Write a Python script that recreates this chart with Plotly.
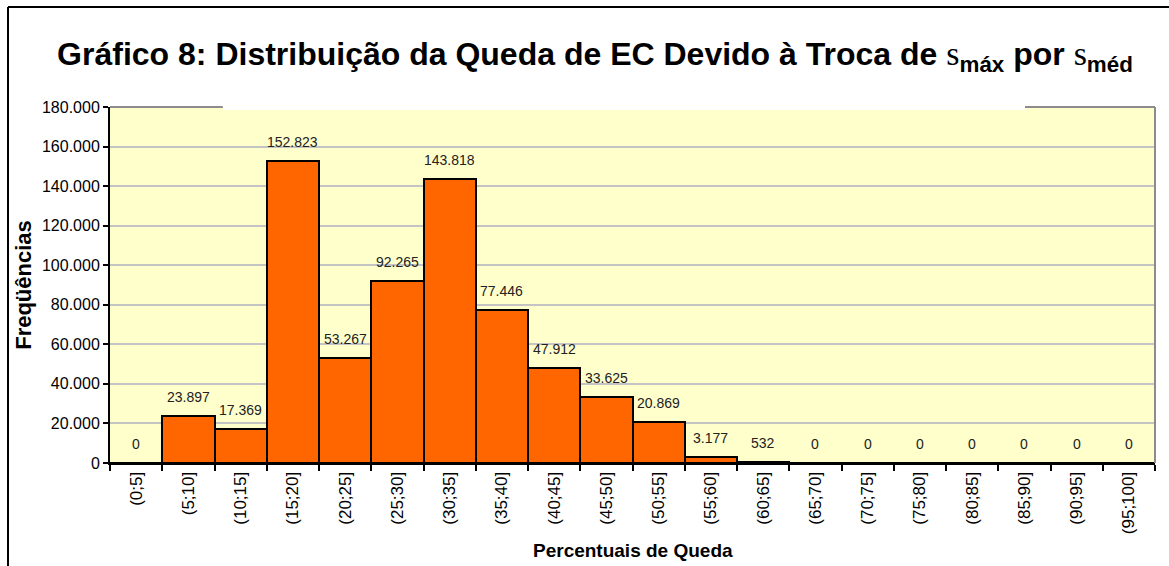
import plotly.graph_objects as go

categories = ["(0;5]", "(5;10]", "(10;15]", "(15;20]", "(20;25]", "(25;30]", "(30;35]",
              "(35;40]", "(40;45]", "(45;50]", "(50;55]", "(55;60]", "(60;65]", "(65;70]",
              "(70;75]", "(75;80]", "(80;85]", "(85;90]", "(90;95]", "(95;100]"]
frequencies = [0, 23897, 17369, 152823, 53267, 92265, 143818, 77446, 47912, 33625,
               20869, 3177, 532, 0, 0, 0, 0, 0, 0, 0]
y_ticks = [0, 20000, 40000, 60000, 80000, 100000, 120000, 140000, 160000, 180000]
y_ticktext = ["0", "20.000", "40.000", "60.000", "80.000", "100.000", "120.000",
              "140.000", "160.000", "180.000"]


def fmt(v):
    return f"{v:,}".replace(",", ".")


SANS = "Liberation Sans, Arial, sans-serif"

fig = go.Figure()
fig.add_trace(go.Bar(
    x=categories, y=frequencies,
    marker=dict(color="#FF6600", line=dict(color="black", width=2)),
    width=1.0,
    hoverinfo="x+y",
))

label_font = dict(family=SANS, size=14, color="#222222")
annotations = []
for c, v in zip(categories, frequencies):
    annotations.append(dict(x=c, y=v, xref="x", yref="y", text=fmt(v), showarrow=False,
                            yanchor="bottom", yshift=9, font=label_font))

annotations.append(dict(
    text="<b>Percentuais de Queda</b>", xref="paper", yref="paper",
    x=0.5, y=-0.245, xanchor="center", yanchor="middle", showarrow=False,
    font=dict(family=SANS, size=19, color="black")))

serif = "font-family:Liberation Serif, serif;font-weight:normal;font-size:34px"
title_text = ("<b>Gráfico 8: Distribuição da Queda de EC Devido à Troca de </b>"
              f"<span style=\"{serif}\">s</span><sub><b>máx</b></sub>"
              "<b> por </b>"
              f"<span style=\"{serif}\">s</span><sub><b>méd</b></sub>")

shapes = [
    # gray plot border top/right
    dict(type="line", xref="paper", yref="paper", x0=0, x1=1, y0=1, y1=1,
         line=dict(color="#8C8C8C", width=2), layer="above"),
    dict(type="line", xref="paper", yref="paper", x0=1, x1=1, y0=0, y1=1,
         line=dict(color="#8C8C8C", width=2), layer="above"),
    # white title box covering the top of the plot
    dict(type="rect", xref="paper", yref="paper", x0=0.108, x1=0.8756,
         ysizemode="pixel", yanchor=1, y0=-3, y1=70,
         fillcolor="white", line=dict(width=0), layer="above"),
    # outer chart border (left & top)
    dict(type="line", xref="paper", yref="paper", x0=-0.0976, x1=-0.0976, y0=1.281, y1=-1.4,
         line=dict(color="black", width=2)),
    dict(type="line", xref="paper", yref="paper", x0=-0.0976, x1=1.2, y0=1.281, y1=1.281,
         line=dict(color="black", width=2)),
]

fig.update_layout(
    width=1169, height=566,
    margin=dict(l=110, r=14, t=107, b=103),
    paper_bgcolor="white",
    plot_bgcolor="#FFFFCC",
    showlegend=False,
    bargap=0,
    title=dict(text=title_text, x=0.509, xref="container", xanchor="center",
               y=0.905, yref="container", yanchor="middle",
               font=dict(family=SANS, size=32, color="black")),
    xaxis=dict(
        type="category", tickangle=-90, tickson="boundaries",
        ticks="outside", ticklen=6, tickwidth=2, tickcolor="black",
        showline=True, linecolor="black", linewidth=2,
        showgrid=False,
        tickfont=dict(family=SANS, size=17, color="black"),
    ),
    yaxis=dict(
        range=[0, 180000], tickvals=y_ticks, ticktext=y_ticktext,
        ticks="outside", ticklen=5, tickwidth=2, tickcolor="black",
        showline=True, linecolor="black", linewidth=2,
        showgrid=True, gridcolor="#C4C4C4", gridwidth=2,
        zeroline=False,
        tickfont=dict(family=SANS, size=16, color="black"),
        title=dict(text="<b>Freqüências</b>", standoff=4,
                   font=dict(family=SANS, size=22, color="black")),
    ),
    annotations=annotations,
    shapes=shapes,
)

fig.write_html("out.html", config={"displayModeBar": False},
               post_script="document.body.style.margin='0';document.body.style.overflow='hidden';")
